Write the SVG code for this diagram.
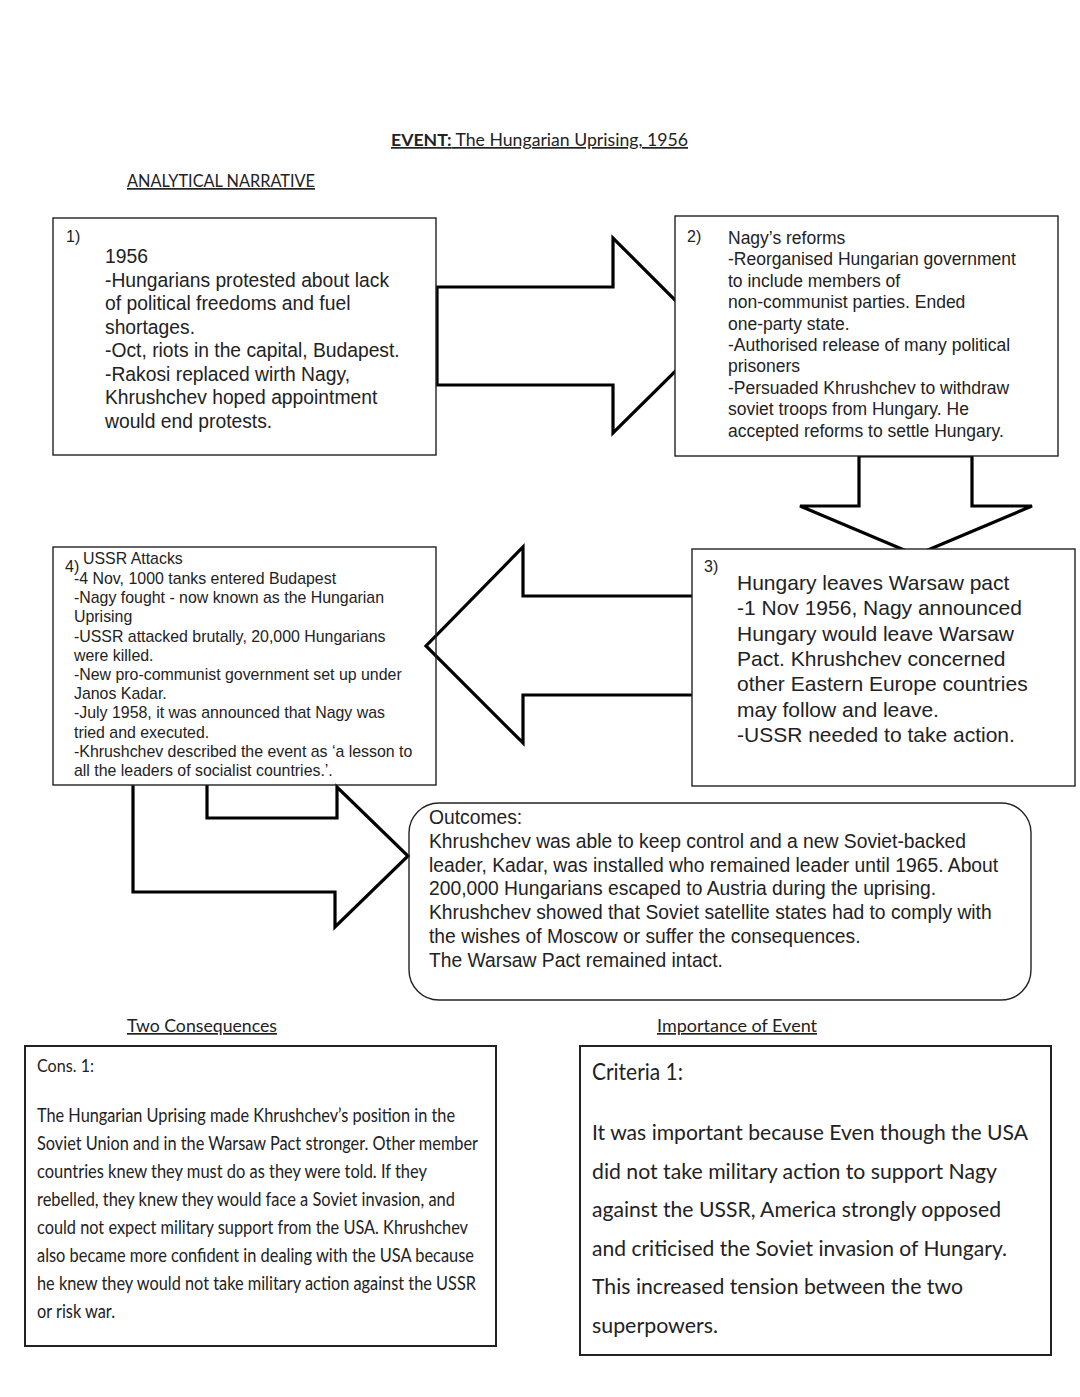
<svg xmlns="http://www.w3.org/2000/svg" width="1080" height="1397" viewBox="0 0 1080 1397">
<style>
.box{fill:#fff;stroke:#222;stroke-width:1.4}
.box0{fill:none;stroke:#222;stroke-width:1.4}
.bbox{fill:#fff;stroke:#222;stroke-width:2}
.arr{fill:none;stroke:#000;stroke-width:3.2;stroke-linejoin:miter}
.a{font-family:"Liberation Sans",Arial,sans-serif;fill:#222}
.c{font-family:Lato,"Open Sans",sans-serif;fill:#222}
.u{text-decoration:underline}
.num{font-family:"Liberation Sans",Arial,sans-serif;fill:#222;font-size:16px}
</style>
<rect width="1080" height="1397" fill="#fff"/>
<g id="headings">
<text class="c u" x="391" y="146" font-size="17" textLength="297" lengthAdjust="spacingAndGlyphs"><tspan font-weight="bold">EVENT:</tspan> The Hungarian Uprising, 1956</text>
<text class="c u" x="127" y="187" font-size="17" textLength="188" lengthAdjust="spacingAndGlyphs">ANALYTICAL NARRATIVE</text>
<text class="c u" x="127" y="1032" font-size="17" textLength="150" lengthAdjust="spacingAndGlyphs">Two Consequences</text>
<text class="c u" x="657" y="1032" font-size="17" textLength="160" lengthAdjust="spacingAndGlyphs">Importance of Event</text>
</g>
<g id="connectors">
<polygon class="arr" points="437,287 613,287 613,238 711,336 613,433 613,385 437,385"/>
<polygon class="arr" points="859,456 859,506 800,506 916,555 1032,506 972,506 972,456"/>
<path class="arr" d="M700,596 L523,596 L523,547 L426,646 L523,743 L523,695 L700,695"/>
<path class="arr" d="M133,785 L133,892 L335,892 L335,927 L408,856 L337,787 L337,818 L207,818 L207,785"/>
</g>
<g id="node1">
<rect class="box" x="53" y="218" width="383" height="237"/>
<text class="num" x="66" y="242">1)</text>
<text class="a" font-size="19.3">
<tspan x="105" y="263">1956</tspan>
<tspan x="105" y="286.5">-Hungarians protested about lack</tspan>
<tspan x="105" y="310">of political freedoms and fuel</tspan>
<tspan x="105" y="333.5">shortages.</tspan>
<tspan x="105" y="357">-Oct, riots in the capital, Budapest.</tspan>
<tspan x="105" y="380.5">-Rakosi replaced wirth Nagy,</tspan>
<tspan x="105" y="404">Khrushchev hoped appointment</tspan>
<tspan x="105" y="427.5">would end protests.</tspan>
</text>
</g>
<g id="node2">
<rect class="box" x="675" y="216" width="383" height="240"/>
<text class="num" x="687" y="242">2)</text>
<text class="a" font-size="17.5">
<tspan x="728" y="244">Nagy’s reforms</tspan>
<tspan x="728" y="265.4">-Reorganised Hungarian government</tspan>
<tspan x="728" y="286.8">to include members of</tspan>
<tspan x="728" y="308.2">non-communist parties. Ended</tspan>
<tspan x="728" y="329.6">one-party state.</tspan>
<tspan x="728" y="351">-Authorised release of many political</tspan>
<tspan x="728" y="372.4">prisoners</tspan>
<tspan x="728" y="393.8">-Persuaded Khrushchev to withdraw</tspan>
<tspan x="728" y="415.2">soviet troops from Hungary. He</tspan>
<tspan x="728" y="436.6">accepted reforms to settle Hungary.</tspan>
</text>
</g>
<g id="node3">
<rect class="box" x="692" y="549" width="383" height="237"/>
<text class="num" x="704" y="572">3)</text>
<text class="a" font-size="21">
<tspan x="737" y="590">Hungary leaves Warsaw pact</tspan>
<tspan x="737" y="615.3">-1 Nov 1956, Nagy announced</tspan>
<tspan x="737" y="640.6">Hungary would leave Warsaw</tspan>
<tspan x="737" y="665.9">Pact. Khrushchev concerned</tspan>
<tspan x="737" y="691.2">other Eastern Europe countries</tspan>
<tspan x="737" y="716.5">may follow and leave.</tspan>
<tspan x="737" y="741.8">-USSR needed to take action.</tspan>
</text>
</g>
<g id="node4">
<rect class="box0" x="53" y="547" width="383" height="238"/>
<text class="num" x="65" y="572" font-size="16.5">4)</text>
<text class="a" font-size="15.9">
<tspan x="83" y="564">USSR Attacks</tspan>
<tspan x="74" y="584">-4 Nov, 1000 tanks entered Budapest</tspan>
<tspan x="74" y="603.2">-Nagy fought - now known as the Hungarian</tspan>
<tspan x="74" y="622.4">Uprising</tspan>
<tspan x="74" y="641.6">-USSR attacked brutally, 20,000 Hungarians</tspan>
<tspan x="74" y="660.8">were killed.</tspan>
<tspan x="74" y="680">-New pro-communist government set up under</tspan>
<tspan x="74" y="699.2">Janos Kadar.</tspan>
<tspan x="74" y="718.4">-July 1958, it was announced that Nagy was</tspan>
<tspan x="74" y="737.6">tried and executed.</tspan>
<tspan x="74" y="756.8">-Khrushchev described the event as ‘a lesson to</tspan>
<tspan x="74" y="776">all the leaders of socialist countries.’.</tspan>
</text>
</g>
<g id="outcomes">
<rect class="box0" x="409" y="803" width="622" height="197" rx="30" ry="30"/>
<text class="a" font-size="19.3">
<tspan x="429" y="824">Outcomes:</tspan>
<tspan x="429" y="847.8">Khrushchev was able to keep control and a new Soviet-backed</tspan>
<tspan x="429" y="871.6">leader, Kadar, was installed who remained leader until 1965. About</tspan>
<tspan x="429" y="895.4">200,000 Hungarians escaped to Austria during the uprising.</tspan>
<tspan x="429" y="919.2">Khrushchev showed that Soviet satellite states had to comply with</tspan>
<tspan x="429" y="943">the wishes of Moscow or suffer the consequences.</tspan>
<tspan x="429" y="966.8">The Warsaw Pact remained intact.</tspan>
</text>
</g>
<g id="consequence1">
<rect class="bbox" x="25" y="1046" width="471" height="300"/>
<text class="c" x="37" y="1072" font-size="18" textLength="57" lengthAdjust="spacingAndGlyphs" fill="#333">Cons. 1:</text>
<g class="c" font-size="18.5">
<text x="37" y="1122" textLength="418" lengthAdjust="spacingAndGlyphs">The Hungarian Uprising made Khrushchev’s position in the</text>
<text x="37" y="1150" textLength="441" lengthAdjust="spacingAndGlyphs">Soviet Union and in the Warsaw Pact stronger. Other member</text>
<text x="37" y="1178" textLength="390" lengthAdjust="spacingAndGlyphs">countries knew they must do as they were told. If they</text>
<text x="37" y="1206" textLength="418" lengthAdjust="spacingAndGlyphs">rebelled, they knew they would face a Soviet invasion, and</text>
<text x="37" y="1234" textLength="431" lengthAdjust="spacingAndGlyphs">could not expect military support from the USA. Khrushchev</text>
<text x="37" y="1262" textLength="437" lengthAdjust="spacingAndGlyphs">also became more confident in dealing with the USA because</text>
<text x="37" y="1290" textLength="439" lengthAdjust="spacingAndGlyphs">he knew they would not take military action against the USSR</text>
<text x="37" y="1318" textLength="78" lengthAdjust="spacingAndGlyphs">or risk war.</text>
</g>
</g>
<g id="criteria1">
<rect class="bbox" x="580" y="1046" width="471" height="309"/>
<text class="c" x="592" y="1080" font-size="23" textLength="91" lengthAdjust="spacingAndGlyphs">Criteria 1:</text>
<g class="c" font-size="22">
<text x="592" y="1140" textLength="436" lengthAdjust="spacingAndGlyphs">It was important because Even though the USA</text>
<text x="592" y="1178.5" textLength="405" lengthAdjust="spacingAndGlyphs">did not take military action to support Nagy</text>
<text x="592" y="1217" textLength="409" lengthAdjust="spacingAndGlyphs">against the USSR, America strongly opposed</text>
<text x="592" y="1255.5" textLength="415" lengthAdjust="spacingAndGlyphs">and criticised the Soviet invasion of Hungary.</text>
<text x="592" y="1294" textLength="371" lengthAdjust="spacingAndGlyphs">This increased tension between the two</text>
<text x="592" y="1332.5" textLength="126" lengthAdjust="spacingAndGlyphs">superpowers.</text>
</g>
</g>
</svg>
